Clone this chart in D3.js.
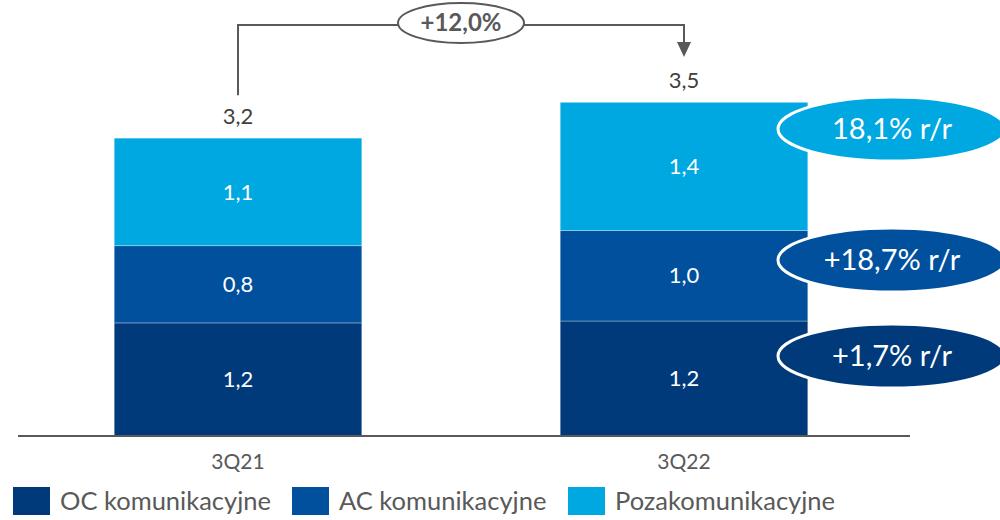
<!DOCTYPE html>
<html>
<head>
<meta charset="utf-8">
<script src="https://cdn.jsdelivr.net/npm/d3@7"></script>
<style>
  body { margin: 0; background: #fff; }
  svg text { font-family: "Source Sans Pro", Lato, "Noto Sans", sans-serif; }
</style>
</head>
<body>
<div id="chart"></div>
<script>
// data
var quarters = ["3Q21", "3Q22"];
var seriesNames = ["OC komunikacyjne", "AC komunikacyjne", "Pozakomunikacyjne"];
var ocValues = [1.20, 1.22];
var acValues = [0.82, 0.96];
var pozaValues = [1.14, 1.36];
var changeLabels = ["+1,7% r/r", "+18,7% r/r", "18,1% r/r"];
var totalChange = "+12,0%";

var colors = ["#003a7a", "#00509d", "#00a8e2"];

var width = 1000, height = 520;

var svg = d3.select("#chart")
    .append("svg")
    .attr("width", width)
    .attr("height", height);

var rows = quarters.map(function (q, i) {
    return { quarter: q, oc: ocValues[i], ac: acValues[i], poza: pozaValues[i] };
});
var keys = ["oc", "ac", "poza"];
var stacked = d3.stack().keys(keys)(rows);

var x = d3.scaleBand()
    .domain(quarters)
    .range([15, 907])
    .paddingInner(0.445)
    .paddingOuter(0.2225);

var y = d3.scaleLinear()
    .domain([0, 4])
    .range([436, 59]);

var fmt = function (v) { return d3.format(".1f")(Math.round(v * 100) / 100).replace(".", ","); };

// bars
var layers = svg.selectAll(".layer")
    .data(stacked)
    .enter().append("g")
    .attr("fill", function (d, i) { return colors[i]; });

layers.selectAll("rect")
    .data(function (d) { return d; })
    .enter().append("rect")
    .attr("x", function (d) { return x(d.data.quarter); })
    .attr("y", function (d) { return y(d[1]); })
    .attr("width", x.bandwidth())
    .attr("height", function (d) { return y(d[0]) - y(d[1]); })
    .attr("stroke", "#ffffff")
    .attr("stroke-opacity", 0.3)
    .attr("stroke-width", 1);

layers.selectAll("text")
    .data(function (d) { return d; })
    .enter().append("text")
    .attr("x", function (d) { return x(d.data.quarter) + x.bandwidth() / 2; })
    .attr("y", function (d) { return (y(d[0]) + y(d[1])) / 2; })
    .attr("dy", "0.35em")
    .attr("text-anchor", "middle")
    .attr("fill", "#ffffff")
    .style("font-size", "22px")
    .text(function (d) { return fmt(d[1] - d[0]); });

// totals
var totals = rows.map(function (r) { return r.oc + r.ac + r.poza; });
svg.selectAll(".total")
    .data(rows)
    .enter().append("text")
    .attr("x", function (d) { return x(d.quarter) + x.bandwidth() / 2; })
    .attr("y", function (d, i) { return y(totals[i]) - 14; })
    .attr("text-anchor", "middle")
    .attr("fill", "#404040")
    .style("font-size", "22px")
    .text(function (d, i) { return fmt(totals[i]); });

// axis
var xAxis = svg.append("g")
    .attr("transform", "translate(0," + y(0) + ")")
    .call(d3.axisBottom(x).tickSize(0).tickPadding(18));
xAxis.select(".domain")
    .attr("d", "M18,0H910")
    .attr("stroke", "#595959")
    .attr("stroke-width", 2);
xAxis.selectAll("text")
    .attr("fill", "#595959")
    .style("font-size", "21px")
    .style("font-family", "'Source Sans Pro', Lato, 'Noto Sans', sans-serif");

// growth connector
var x1 = x(quarters[0]) + x.bandwidth() / 2;
var x2 = x(quarters[1]) + x.bandwidth() / 2;
var topY = 25;
svg.append("path")
    .attr("d", "M" + x1 + "," + (y(totals[0]) - 43) + "V" + topY + "H" + x2 + "V" + 44)
    .attr("fill", "none")
    .attr("stroke", "#595959")
    .attr("stroke-width", 2);
svg.append("path")
    .attr("d", "M" + (x2 - 7) + "," + 42 + "L" + (x2 + 7) + "," + 42 + "L" + x2 + "," + 57 + "Z")
    .attr("fill", "#595959");
var cx = (x1 + x2) / 2;
svg.append("ellipse")
    .attr("cx", cx)
    .attr("cy", 23)
    .attr("rx", 63)
    .attr("ry", 20)
    .attr("fill", "#ffffff")
    .attr("stroke", "#595959")
    .attr("stroke-width", 2);
svg.append("text")
    .attr("x", cx)
    .attr("y", 23)
    .attr("dy", "0.35em")
    .attr("text-anchor", "middle")
    .attr("fill", "#595959")
    .attr("font-weight", "bold")
    .style("font-size", "24px")
    .text(totalChange);

// yoy bubbles, next to each segment of the second bar
var bubbleY = [356, 260, 129];
svg.selectAll(".bubble")
    .data(changeLabels)
    .enter().append("ellipse")
    .attr("cx", 892)
    .attr("cy", function (d, i) { return bubbleY[i]; })
    .attr("rx", 114)
    .attr("ry", 32)
    .attr("fill", function (d, i) { return colors[i]; })
    .attr("stroke", "#ffffff")
    .attr("stroke-width", 3);
svg.selectAll(".bubbleText")
    .data(changeLabels)
    .enter().append("text")
    .attr("x", 892)
    .attr("y", function (d, i) { return bubbleY[i]; })
    .attr("dy", "0.35em")
    .attr("text-anchor", "middle")
    .attr("fill", "#ffffff")
    .style("font-size", "29px")
    .text(function (d) { return d; });

// legend
var legendX = [13, 292, 568];
var legend = svg.selectAll(".legend")
    .data(seriesNames)
    .enter().append("g")
    .attr("transform", function (d, i) { return "translate(" + legendX[i] + ",487)"; });
legend.append("rect")
    .attr("width", 37)
    .attr("height", 28)
    .attr("fill", function (d, i) { return colors[i]; });
legend.append("text")
    .attr("x", 47)
    .attr("y", 14)
    .attr("dy", "0.35em")
    .attr("fill", "#595959")
    .style("font-size", "25.5px")
    .text(function (d) { return d; });
</script>
</body>
</html>
